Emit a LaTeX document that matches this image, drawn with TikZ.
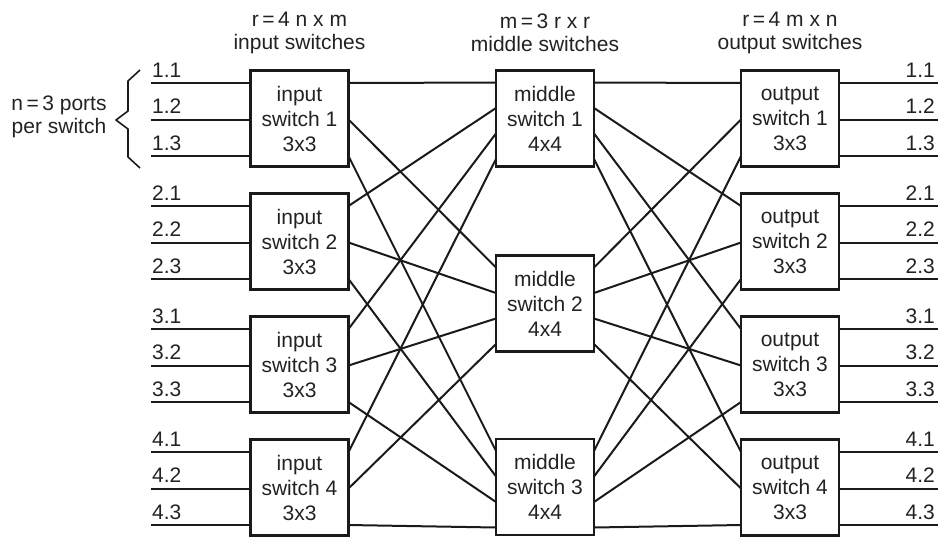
\documentclass[tikz,border=0pt]{standalone}
\usepackage{fontspec}
\setmainfont{Liberation Sans}
\definecolor{ink}{HTML}{1A1A1A}
\definecolor{txt}{HTML}{222222}
\newcommand\swfont{\fontsize{21}{25}\selectfont}
\newcommand\hdfont{\fontsize{21}{23}\selectfont}
\begin{document}
\begin{tikzpicture}[x=1pt,y=-1pt,
  sw/.style={draw=ink, line width=2.9pt, minimum width=98pt, minimum height=96pt,
    inner sep=0pt, align=center, font=\swfont, text=txt},
  wire/.style={draw=ink, line width=2pt},
  lbl/.style={font=\swfont, text=txt, inner sep=0pt},
  hd/.style={font=\hdfont, text=txt, inner sep=0pt, align=center}]
\useasboundingbox (0,0) rectangle (942,539);

% input and output switches with their ports
\foreach \i in {1,...,4} {
  \pgfmathsetmacro\cy{118.5+123*(\i-1)}
  \node[sw] (in\i) at (299.5,\cy) {input\\switch \i\\3x3};
  \node[sw] (out\i) at (790,\cy) {output\\switch \i\\3x3};
  \foreach \j in {1,2,3} {
    \pgfmathsetmacro\py{\cy-48.5+13+36.5*(\j-1)}
    \coordinate (ip\i-\j) at (151,\py);
    \coordinate (in\i-l\j) at (250.5,\py);
    \coordinate (in\i-r\j) at (348.5,\py);
    \coordinate (out\i-l\j) at (741,\py);
    \coordinate (out\i-r\j) at (839,\py);
    \coordinate (op\i-\j) at (938,\py);
    \draw[wire] (ip\i-\j) -- (in\i-l\j);
    \draw[wire] (out\i-r\j) -- (op\i-\j);
    \node[lbl, anchor=base west] (pl\i-\j) at (152,\py-6) {\i.\j};
    \node[lbl, anchor=base east] (pr\i-\j) at (935,\py-6) {\i.\j};
  }
}

% middle switches
\foreach \j/\my in {1/118.5, 2/303.5, 3/487} {
  \node[sw] (mid\j) at (545,\my) {middle\\switch \j\\4x4};
  \foreach \i in {1,...,4} {
    \pgfmathsetmacro\py{\my-48.5+12.5+25.5*(\i-1)}
    \coordinate (mid\j-l\i) at (496,\py);
    \coordinate (mid\j-r\i) at (594,\py);
  }
}

% interconnections
\foreach \i in {1,...,4} {
  \foreach \j in {1,2,3} {
    \draw[wire] (in\i-r\j) -- (mid\j-l\i);
    \draw[wire] (mid\j-r\i) -- (out\i-l\j);
  }
}

% headings
\node[hd] (hin) at (299.5,33) {r\,=\,4 n x m\\input switches};
\node[hd] (hmid) at (545,33) {m\,=\,3 r x r\\middle switches};
\node[hd] (hout) at (790,33) {r\,=\,4 m x n\\output switches};

% brace and port-count label
\draw[draw=ink, line width=1.6pt, line join=round]
  (140,70) -- (128,81) -- (128,111) -- (116,120) -- (128,129) -- (128,157) -- (140,168);
\node[hd, align=center] (nports) at (59,117) {n\,=\,3 ports\\per switch};
\end{tikzpicture}
\end{document}
